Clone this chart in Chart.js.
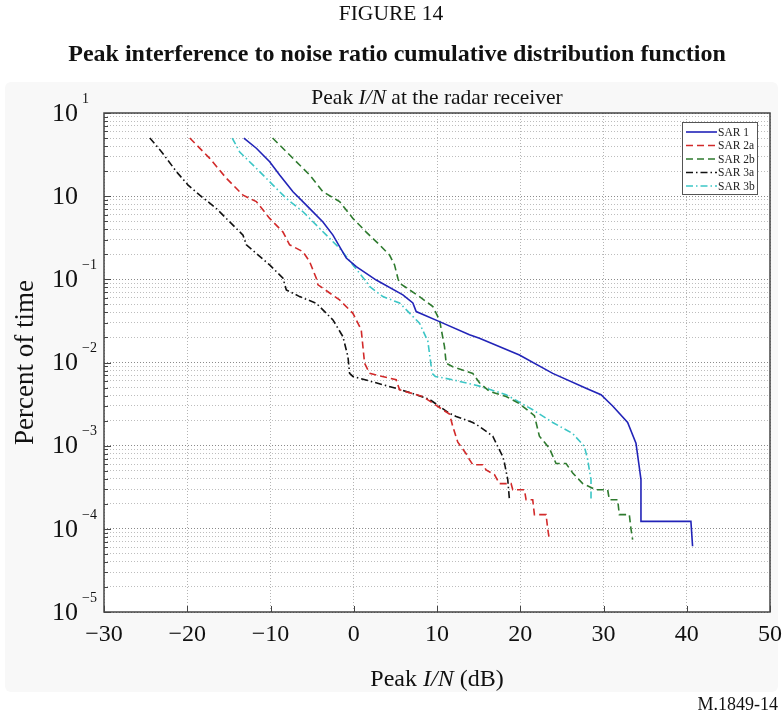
<!DOCTYPE html>
<html>
<head>
<meta charset="utf-8">
<script src="https://cdn.jsdelivr.net/npm/chart.js@4.4.0/dist/chart.umd.min.js"></script>
<style>
    html, body { margin: 0; padding: 0; background: #fff; }
    #wrap { width: 783px; height: 716px; }
</style>
</head>
<body>
<div id="wrap"><canvas id="cdfChart" width="783" height="716"></canvas></div>
<script>
// Peak I/N CDF at the radar receiver
const xTicks = [-30, -20, -10, 0, 10, 20, 30, 40, 50];
const yExponents = [1, 0, -1, -2, -3, -4, -5];
const yExpLabels = ['1', '', '\u22121', '\u22122', '\u22123', '\u22124', '\u22125'];
const seriesNames = ['SAR 1', 'SAR 2a', 'SAR 2b', 'SAR 3a', 'SAR 3b'];

// SAR 1
const sar1X = [-13.2, -11.7, -10.1, -8.9, -7.3, -5.7, -3.7, -2.5, -0.9, 0.3, 2.7, 5.9, 7.1, 7.5, 10.3, 13.9, 15.1, 19.9, 23.9, 27.9, 29.7, 31.1, 32.9, 33.9, 34.3, 34.5, 34.5, 40.5, 40.7];
const sar1Y = [5.0, 3.77, 2.6, 1.8, 1.13, 0.78, 0.49, 0.34, 0.18, 0.142, 0.098, 0.065, 0.052, 0.041, 0.031, 0.0215, 0.0196, 0.0123, 0.0074, 0.0049, 0.0041, 0.0030, 0.0019, 0.00107, 0.00055, 0.00039, 0.000123, 0.000123, 0.0000617];

// SAR 2a
const sar2aX = [-19.7, -17.3, -15.3, -13.3, -11.7, -10.1, -8.5, -7.7, -6.1, -5.3, -4.5, -4.3, -1.7, -0.1, 0.9, 1.3, 1.9, 5.1, 5.5, 8.3, 10.7, 11.5, 11.9, 12.5, 13.5, 13.9, 14.3, 15.5, 15.9, 16.9, 17.5, 18.9, 19.1, 20.5, 20.7, 21.5, 21.7, 23.1, 23.3, 23.5];
const sar2aY = [5.0, 2.85, 1.64, 1.03, 0.86, 0.54, 0.37, 0.26, 0.215, 0.163, 0.103, 0.086, 0.0565, 0.039, 0.0247, 0.0098, 0.0074, 0.0062, 0.0047, 0.0039, 0.0027, 0.0024, 0.0017, 0.0011, 0.0008, 0.00068, 0.00059, 0.00059, 0.00051, 0.00045, 0.00035, 0.00035, 0.000295, 0.000295, 0.000224, 0.000224, 0.000148, 0.000148, 0.0001, 0.000074];

// SAR 2b
const sar2bX = [-9.75, -8.1, -6.5, -5.3, -3.7, -1.7, -0.1, 1.5, 3.1, 4.3, 4.9, 5.3, 5.5, 7.9, 9.5, 10.3, 10.9, 11.1, 11.9, 14.3, 15.1, 16.3, 18.3, 19.9, 21.7, 22.3, 23.5, 24.3, 25.5, 26.3, 27.5, 29.1, 30.5, 30.7, 31.7, 31.9, 33.1, 33.3, 33.5];
const sar2bY = [5.0, 3.43, 2.37, 1.8, 1.13, 0.86, 0.54, 0.37, 0.26, 0.196, 0.149, 0.103, 0.09, 0.062, 0.047, 0.0325, 0.0155, 0.0098, 0.0089, 0.0074, 0.0057, 0.0045, 0.0039, 0.0032, 0.0023, 0.0013, 0.00093, 0.00061, 0.00061, 0.00047, 0.00035, 0.000295, 0.000295, 0.000224, 0.000224, 0.000148, 0.000148, 0.0001, 0.000074];

// SAR 3a
const sar3aX = [-24.5, -23.1, -21.3, -19.9, -18.5, -16.5, -13.3, -12.9, -10.1, -8.5, -8.1, -6.5, -4.5, -2.5, -1.3, -0.7, -0.5, -0.1, 3.5, 5.1, 7.5, 9.1, 11.5, 12.3, 14.3, 15.1, 16.7, 17.1, 17.9, 18.1, 18.5, 18.7];
const sar3aY = [5.0, 3.43, 1.97, 1.36, 1.03, 0.71, 0.34, 0.26, 0.149, 0.103, 0.0746, 0.062, 0.0516, 0.0325, 0.0205, 0.0118, 0.0074, 0.0068, 0.0054, 0.0049, 0.0041, 0.0036, 0.00245, 0.00224, 0.0019, 0.0017, 0.0013, 0.00107, 0.00074, 0.00062, 0.00039, 0.000224];

// SAR 3b
const sar3bX = [-14.6, -13.7, -11.7, -9.7, -8.1, -6.1, -4.1, -1.7, -0.1, 1.5, 1.9, 3.5, 5.5, 7.9, 8.9, 9.2, 9.4, 9.8, 11.9, 15.1, 18.3, 21.5, 23.9, 26.3, 27.7, 28.1, 28.3, 28.5, 28.5];
const sar3bY = [5.0, 3.4, 2.16, 1.36, 0.94, 0.65, 0.41, 0.236, 0.149, 0.094, 0.082, 0.062, 0.052, 0.0297, 0.018, 0.0108, 0.0074, 0.0068, 0.0062, 0.0052, 0.0041, 0.0027, 0.0019, 0.0014, 0.00098, 0.00068, 0.00051, 0.00039, 0.00023];

const SERIF = "'Liberation Serif', 'Times New Roman', serif";

// line styles per series
const seriesStyles = [
    { color: '#2224b8', dash: [] },
    { color: '#d22a2a', dash: [7, 4] },
    { color: '#2e7a2e', dash: [7, 4] },
    { color: '#111111', dash: [7, 3, 1.5, 3] },
    { color: '#3cc6c6', dash: [7, 3, 1.5, 3] }
];

function toPoints(xs, ys) {
    return xs.map((x, i) => ({ x: x, y: ys[i] }));
}

function fmtTick(v) {
    return v < 0 ? '\u2212' + Math.abs(v) : String(v);
}

function isDecade(v) {
    const l = Math.log10(v);
    return Math.abs(l - Math.round(l)) < 1e-6;
}

// draw text pieces in a row, some italic
function drawRich(ctx, parts, cx, cy, size) {
    let total = 0;
    parts.forEach(p => {
        ctx.font = (p.italic ? 'italic ' : '') + size + 'px ' + SERIF;
        p.w = ctx.measureText(p.text).width;
        total += p.w;
    });
    let x = cx - total / 2;
    ctx.textAlign = 'left';
    ctx.textBaseline = 'middle';
    parts.forEach(p => {
        ctx.font = (p.italic ? 'italic ' : '') + size + 'px ' + SERIF;
        ctx.fillText(p.text, x, cy);
        x += p.w;
    });
}

const decorPlugin = {
    id: 'figureDecor',
    beforeDraw(chart) {
        const ctx = chart.ctx;
        const a = chart.chartArea;
        ctx.save();
        ctx.fillStyle = '#ffffff';
        ctx.fillRect(0, 0, chart.width, chart.height);
        // faint panel behind the plot
        ctx.fillStyle = '#f8f8f8';
        ctx.beginPath();
        ctx.roundRect(5, 82, 773, 610, 6);
        ctx.fill();
        ctx.fillStyle = '#ffffff';
        ctx.fillRect(a.left, a.top, a.right - a.left, a.bottom - a.top);
        ctx.restore();
    },
    afterDraw(chart) {
        const ctx = chart.ctx;
        const a = chart.chartArea;
        const xs = chart.scales.x;
        const ys = chart.scales.y;
        ctx.save();

        // frame
        ctx.strokeStyle = '#444';
        ctx.lineWidth = 1.5;
        ctx.setLineDash([]);
        ctx.strokeRect(a.left, a.top, a.right - a.left, a.bottom - a.top);

        // inward ticks
        ctx.lineWidth = 1;
        ctx.beginPath();
        ys.ticks.forEach(t => {
            const py = Math.round(ys.getPixelForValue(t.value)) + 0.5;
            const len = isDecade(t.value) ? 7 : 4;
            ctx.moveTo(a.left, py);
            ctx.lineTo(a.left + len, py);
        });
        xTicks.forEach(v => {
            const px = Math.round(xs.getPixelForValue(v)) + 0.5;
            ctx.moveTo(px, a.bottom);
            ctx.lineTo(px, a.bottom - 6);
        });
        ctx.stroke();

        // y tick labels 10^n
        ctx.fillStyle = '#111';
        ctx.textAlign = 'left';
        ctx.textBaseline = 'middle';
        yExponents.forEach((e, i) => {
            const py = ys.getPixelForValue(Math.pow(10, e));
            ctx.font = '26px ' + SERIF;
            ctx.fillText('10', 52, py + 1);
            if (yExpLabels[i]) {
                ctx.font = '14px ' + SERIF;
                ctx.fillText(yExpLabels[i], 82, py - 14);
            }
        });

        // figure headings
        ctx.textAlign = 'center';
        ctx.textBaseline = 'middle';
        ctx.font = '21.5px ' + SERIF;
        ctx.fillText('FIGURE 14', 391, 14);
        ctx.font = 'bold 24px ' + SERIF;
        ctx.fillText('Peak interference to noise ratio cumulative distribution function', 397, 55);

        // plot title and axis titles
        const cx = (a.left + a.right) / 2;
        drawRich(ctx, [{ text: 'Peak ' }, { text: 'I/N', italic: true }, { text: ' at the radar receiver' }], cx, 98, 21.5);
        drawRich(ctx, [{ text: 'Peak ' }, { text: 'I/N', italic: true }, { text: ' (dB)' }], cx, 680, 24);

        ctx.save();
        ctx.translate(26, (a.top + a.bottom) / 2);
        ctx.rotate(-Math.PI / 2);
        ctx.textAlign = 'center';
        ctx.font = '27px ' + SERIF;
        ctx.fillText('Percent of time', 0, 0);
        ctx.restore();

        ctx.textAlign = 'right';
        ctx.font = '18px ' + SERIF;
        ctx.fillText('M.1849-14', 778, 705);

        // legend box
        const lx = 682, ly = 122, lw = 75, lh = 72;
        ctx.fillStyle = '#fff';
        ctx.fillRect(lx, ly, lw, lh);
        ctx.strokeStyle = '#555';
        ctx.lineWidth = 1;
        ctx.strokeRect(lx + 0.5, ly + 0.5, lw, lh);
        seriesNames.forEach((name, i) => {
            const ry = ly + 10 + i * 13.5;
            ctx.strokeStyle = seriesStyles[i].color;
            ctx.lineWidth = 1.6;
            ctx.setLineDash(seriesStyles[i].dash);
            ctx.beginPath();
            ctx.moveTo(lx + 4, ry);
            ctx.lineTo(lx + 35, ry);
            ctx.stroke();
            ctx.setLineDash([]);
            ctx.fillStyle = '#222';
            ctx.font = '11.5px ' + SERIF;
            ctx.textAlign = 'left';
            ctx.textBaseline = 'middle';
            ctx.fillText(name, lx + 36, ry + 0.5);
        });

        ctx.restore();
    }
};

const allX = [sar1X, sar2aX, sar2bX, sar3aX, sar3bX];
const allY = [sar1Y, sar2aY, sar2bY, sar3aY, sar3bY];

const datasets = seriesNames.map((name, i) => ({
    label: name,
    data: toPoints(allX[i], allY[i]),
    borderColor: seriesStyles[i].color,
    borderDash: seriesStyles[i].dash,
    borderWidth: 1.6,
    pointRadius: 0,
    fill: false,
    tension: 0
}));

new Chart(document.getElementById('cdfChart').getContext('2d'), {
    type: 'line',
    data: { datasets: datasets },
    options: {
        responsive: false,
        animation: false,
        devicePixelRatio: 1,
        layout: { padding: { top: 113, right: 13, left: 0, bottom: 0 } },
        plugins: {
            legend: { display: false },
            tooltip: { enabled: false }
        },
        scales: {
            x: {
                type: 'linear',
                min: -30,
                max: 50,
                afterBuildTicks: s => { s.ticks = xTicks.map(v => ({ value: v })); },
                afterFit: s => { s.height = 104; s.paddingLeft = 0; s.paddingRight = 0; },
                grid: { color: '#b4b4b4', lineWidth: 1, drawTicks: false },
                border: { display: false, dash: [1, 2] },
                ticks: {
                    padding: 8,
                    color: '#111',
                    font: { family: SERIF, size: 24 },
                    callback: v => fmtTick(v)
                }
            },
            y: {
                type: 'logarithmic',
                min: 1e-5,
                max: 10,
                afterBuildTicks: s => {
                    const list = [];
                    for (let e = -5; e <= 0; e++) {
                        for (let m = 1; m <= 9; m++) list.push({ value: m * Math.pow(10, e) });
                    }
                    list.push({ value: 10 });
                    s.ticks = list;
                },
                afterFit: s => { s.width = 104; s.paddingTop = 0; s.paddingBottom = 0; },
                grid: {
                    color: c => isDecade(c.tick.value) ? '#8a8a8a' : '#bdbdbd',
                    lineWidth: 1,
                    drawTicks: false
                },
                border: { display: false, dash: [1, 2] },
                ticks: { display: false }
            }
        }
    },
    plugins: [decorPlugin]
});
</script>
</body>
</html>
